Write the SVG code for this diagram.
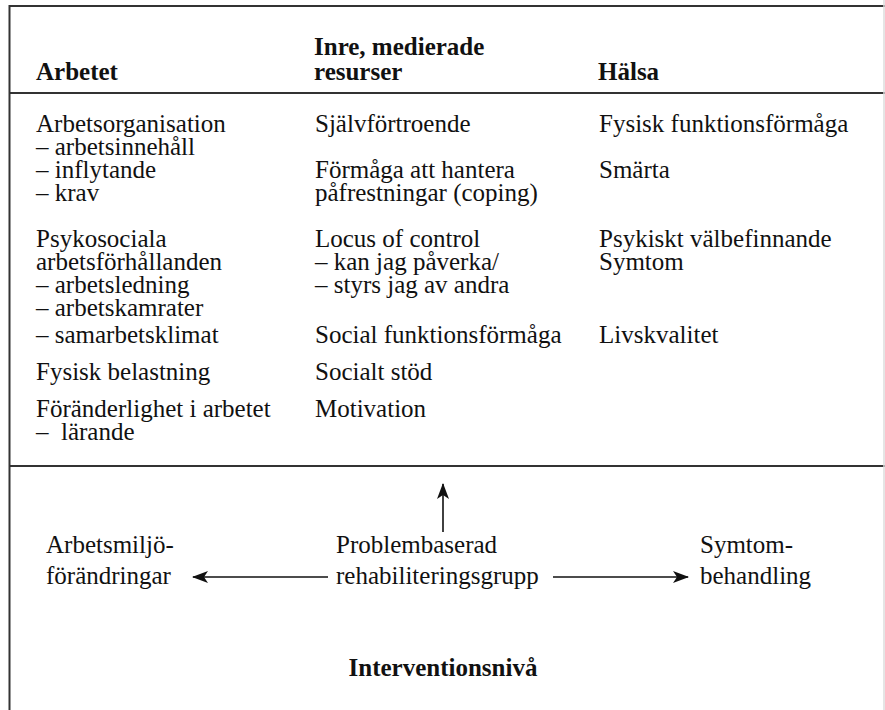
<svg xmlns="http://www.w3.org/2000/svg" width="885" height="710" viewBox="0 0 885 710">
<defs>
<style>
text{font-family:'Liberation Serif','Times New Roman',serif;font-size:25px;font-weight:400;fill:#111}
.b{font-weight:700}
.frame{stroke:#333;stroke-width:2;fill:none}
.conn{stroke:#111;stroke-width:1.6;fill:none}
</style>
<marker id="ah" viewBox="0 0 16 12" refX="15" refY="6" markerWidth="16" markerHeight="12" markerUnits="userSpaceOnUse" orient="auto">
<path d="M0,0 L16,6 L0,12 L4,6 Z" fill="#111"/>
</marker>
</defs>
<rect width="885" height="710" fill="#fff"/>
<g id="frame">
<line class="frame" x1="9.5" y1="6" x2="885" y2="6"/>
<line class="frame" x1="9.5" y1="93" x2="885" y2="93"/>
<line class="frame" x1="9.5" y1="466" x2="885" y2="466"/>
<line class="frame" x1="9.5" y1="5" x2="9.5" y2="710"/>
<line x1="884" y1="0" x2="884" y2="710" stroke="#ddd" stroke-width="1.5"/>
</g>
<g id="header">
<text class="b" x="36" y="80">Arbetet</text>
<text class="b" x="314" y="55">Inre, medierade</text>
<text class="b" x="314" y="80">resurser</text>
<text class="b" x="598" y="80">Hälsa</text>
</g>
<g id="col-arbetet">
<text x="36" y="132">Arbetsorganisation</text>
<text x="36" y="155">– arbetsinnehåll</text>
<text x="36" y="178">– inflytande</text>
<text x="36" y="201">– krav</text>
<text x="36" y="247">Psykosociala</text>
<text x="36" y="270">arbetsförhållanden</text>
<text x="36" y="293">– arbetsledning</text>
<text x="36" y="316">– arbetskamrater</text>
<text x="36" y="343">– samarbetsklimat</text>
<text x="36" y="380">Fysisk belastning</text>
<text x="36" y="417">Föränderlighet i arbetet</text>
<text x="36" y="440" xml:space="preserve">–  lärande</text>
</g>
<g id="col-resurser">
<text x="315" y="132">Självförtroende</text>
<text x="315" y="178">Förmåga att hantera</text>
<text x="315" y="201">påfrestningar (coping)</text>
<text x="315" y="247">Locus of control</text>
<text x="315" y="270">– kan jag påverka/</text>
<text x="315" y="293">– styrs jag av andra</text>
<text x="315" y="343">Social funktionsförmåga</text>
<text x="315" y="380">Socialt stöd</text>
<text x="315" y="417">Motivation</text>
</g>
<g id="col-halsa">
<text x="599" y="132">Fysisk funktionsförmåga</text>
<text x="599" y="178">Smärta</text>
<text x="599" y="247">Psykiskt välbefinnande</text>
<text x="599" y="270">Symtom</text>
<text x="599" y="343">Livskvalitet</text>
</g>
<g id="node-arbetsmiljo">
<text x="46" y="553">Arbetsmiljö-</text>
<text x="46" y="584">förändringar</text>
</g>
<g id="node-problembaserad">
<text x="336" y="553">Problembaserad</text>
<text x="336" y="584">rehabiliteringsgrupp</text>
</g>
<g id="node-symtom">
<text x="700" y="553">Symtom-</text>
<text x="700" y="584">behandling</text>
</g>
<g id="node-intervention">
<text class="b" x="443" y="676" text-anchor="middle">Interventionsnivå</text>
</g>
<g id="connectors">
<line class="conn" x1="443" y1="532" x2="443" y2="484" marker-end="url(#ah)"/>
<line class="conn" x1="328" y1="577" x2="193" y2="577" marker-end="url(#ah)"/>
<line class="conn" x1="553" y1="577" x2="688" y2="577" marker-end="url(#ah)"/>
</g>
</svg>
